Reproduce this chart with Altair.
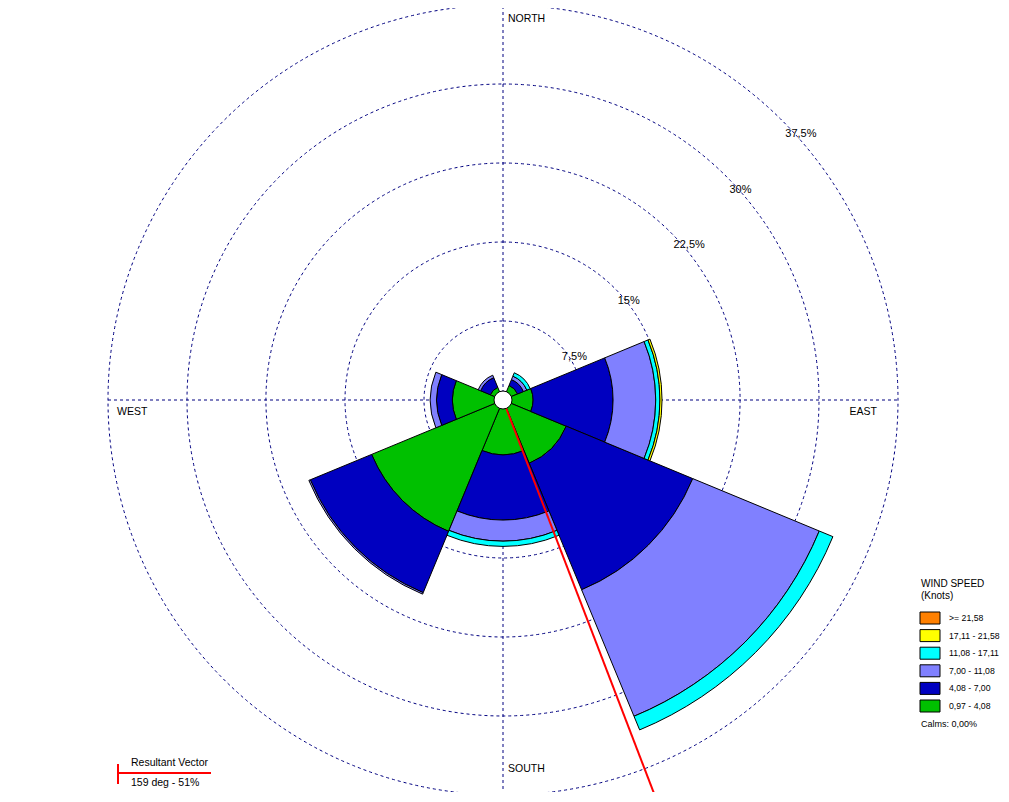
import math
import altair as alt
import pandas as pd

# ---------------- data ----------------
directions = ["N", "NE", "E", "SE", "S", "SW", "W", "NW"]
bearings = [0, 45, 90, 135, 180, 225, 270, 315]
sector_width = 45

speed_classes = ["0,97 - 4,08", "4,08 - 7,00", "7,00 - 11,08",
                 "11,08 - 17,11", "17,11 - 21,58", ">= 21,58"]
class_colors = ["#00C000", "#0000C0", "#8080FF", "#00FFFF", "#FFFF00", "#FF8000"]

# frequency (%) of each speed class per direction
pct_097_408 = [0.6, 1.5, 2.85, 6.5, 5.2, 13.5, 4.8, 1.3]
pct_408_700 = [0.0, 0.6, 7.6, 13.0, 6.2, 6.3, 1.5, 1.0]
pct_700_1108 = [0.0, 0.35, 4.05, 13.0, 2.0, 0.15, 0.6, 0.25]
pct_1108_1711 = [0.0, 0.35, 0.4, 1.4, 0.5, 0.0, 0.0, 0.0]
pct_1711_2158 = [0.0, 0.0, 0.2, 0.0, 0.0, 0.0, 0.0, 0.0]
pct_ge_2158 = [0.0, 0.0, 0.0, 0.0, 0.0, 0.0, 0.0, 0.0]

ring_values = [7.5, 15, 22.5, 30, 37.5]
ring_labels = ["7,5%", "15%", "22,5%", "30%", "37,5%"]
compass_labels = ["NORTH", "EAST", "SOUTH", "WEST"]

resultant_dir = 159
resultant_pct = 51
calms_text = "Calms: 0,00%"

# ---------------- layout ----------------
W, H = 993, 784
CX, CY = 503, 400          # page position of rose centre
K = 395 / 37.5             # px per percent
FONT = "Liberation Sans"
NAVY = "#000080"

def px_x(page_x):
    return (page_x - CX) / K

def px_y(page_y):
    return (CY - page_y) / K

xs = alt.Scale(domain=[px_x(8), px_x(8 + W)], nice=False, zero=False)
ys = alt.Scale(domain=[px_y(8 + H), px_y(8)], nice=False, zero=False)
ths = alt.Scale(domain=[0, 360], range=[0, 2 * math.pi])
rs = alt.Scale(type="linear", domain=[0, 37.5], range=[0, 37.5 * K], zero=True)

X = lambda f: alt.X(f, scale=xs, axis=None)
Y = lambda f: alt.Y(f, scale=ys, axis=None)

# petals
series = [pct_097_408, pct_408_700, pct_700_1108, pct_1108_1711, pct_1711_2158, pct_ge_2158]
rows = []
for i, b in enumerate(bearings):
    cum = 0.0
    for c, arr in enumerate(series):
        v = arr[i]
        if v > 0:
            rows.append(dict(cx=0, cy=0, t0=b - sector_width / 2, t1=b + sector_width / 2,
                             r0=cum, r1=cum + v, cls=speed_classes[c], order=c))
            cum += v
petals = pd.DataFrame(rows)

color_scale = alt.Scale(domain=speed_classes, range=class_colors)

rings_df = pd.DataFrame(dict(cx=0, cy=0, t0=0, t1=360, r=ring_values))
rings = alt.Chart(rings_df).mark_arc(fillOpacity=0, stroke=NAVY, strokeWidth=1,
                                     strokeDash=[3, 3]).encode(
    x=X("cx:Q"), y=Y("cy:Q"),
    theta=alt.Theta("t0:Q", scale=ths, stack=None), theta2="t1:Q",
    radius=alt.Radius("r:Q", scale=rs))

R = ring_values[-1]
axes_df = pd.DataFrame(dict(x=[-R, 0], x2=[R, 0], y=[0, -R], y2=[0, R]))
axes_lines = alt.Chart(axes_df).mark_rule(color=NAVY, strokeWidth=1, strokeDash=[3, 3]).encode(
    x=X("x:Q"), x2="x2:Q", y=Y("y:Q"), y2="y2:Q")

petal_layer = alt.Chart(petals).mark_arc(stroke="black", strokeWidth=1).encode(
    x=X("cx:Q"), y=Y("cy:Q"),
    theta=alt.Theta("t0:Q", scale=ths, stack=None), theta2="t1:Q",
    radius=alt.Radius("r1:Q", scale=rs), radius2="r0:Q",
    fill=alt.Fill("cls:N", scale=color_scale, legend=None),
    order=alt.Order("order:Q"))

rad = math.radians(resultant_dir)
res_df = pd.DataFrame(dict(x=[0], y=[0], x2=[resultant_pct * math.sin(rad)],
                           y2=[resultant_pct * math.cos(rad)]))
res_line = alt.Chart(res_df).mark_rule(color="#FF0000", strokeWidth=2).encode(
    x=X("x:Q"), x2="x2:Q", y=Y("y:Q"), y2="y2:Q")

calm_df = pd.DataFrame(dict(cx=[0], cy=[0], t0=[0], t1=[360]))
calm = alt.Chart(calm_df).mark_arc(fill="white", stroke="black", strokeWidth=1).encode(
    x=X("cx:Q"), y=Y("cy:Q"),
    theta=alt.Theta("t0:Q", scale=ths, stack=None), theta2="t1:Q",
    radius=alt.value(9))

s45 = math.sin(math.radians(45))
ring_lab_df = pd.DataFrame(dict(x=[v * s45 for v in ring_values],
                                y=[v * s45 for v in ring_values], t=ring_labels))
ring_text = alt.Chart(ring_lab_df).mark_text(align="left", baseline="middle", dx=3, dy=13,
                                             font=FONT, fontSize=11, color="black").encode(
    x=X("x:Q"), y=Y("y:Q"), text="t:N")

def compass(label, x, y, align, dx, dy):
    d = pd.DataFrame(dict(x=[x], y=[y], t=[label]))
    return alt.Chart(d).mark_text(align=align, baseline="middle", dx=dx, dy=dy,
                                  font=FONT, fontSize=10.5, color="black").encode(
        x=X("x:Q"), y=Y("y:Q"), text="t:N")

compass_layers = [
    compass(compass_labels[0], 0, R, "left", 5, 13.5),
    compass(compass_labels[1], R, 0, "right", -21, 12),
    compass(compass_labels[2], 0, -R, "left", 5, -26),
    compass(compass_labels[3], -R, 0, "left", 9, 12),
]

# ---------------- wind speed legend ----------------
legend_order = list(reversed(speed_classes))  # fastest on top
leg_rows = []
for i, c in enumerate(legend_order):
    top = 612 + i * 17.6
    leg_rows.append(dict(x=px_x(920), x2=px_x(940), y=px_y(top), y2=px_y(top + 12),
                         ym=px_y(top + 6), lx=px_x(949), cls=c))
leg_df = pd.DataFrame(leg_rows)
leg_boxes = alt.Chart(leg_df).mark_rect(stroke="black", strokeWidth=1).encode(
    x=X("x:Q"), x2="x2:Q", y=Y("y:Q"), y2="y2:Q",
    fill=alt.Fill("cls:N", scale=color_scale, legend=None))
leg_labels = alt.Chart(leg_df).mark_text(align="left", baseline="middle", font=FONT,
                                         fontSize=8.7, color="black").encode(
    x=X("lx:Q"), y=Y("ym:Q"), text="cls:N")

leg_title_df = pd.DataFrame(dict(x=[px_x(921)] * 3, y=[px_y(584), px_y(596), px_y(724)],
                                 t=["WIND SPEED", "(Knots)", calms_text],
                                 fs=[10, 10, 9]))
leg_title = alt.Chart(leg_title_df).mark_text(align="left", baseline="middle", font=FONT,
                                              color="black").encode(
    x=X("x:Q"), y=Y("y:Q"), text="t:N",
    size=alt.Size("fs:Q", scale=None, legend=None))

# ---------------- resultant vector key ----------------
rv_df = pd.DataFrame(dict(x=[px_x(118), px_x(118)], x2=[px_x(211), px_x(118)],
                          y=[px_y(773), px_y(764)], y2=[px_y(773), px_y(784)]))
rv_lines = alt.Chart(rv_df).mark_rule(color="#FF0000", strokeWidth=2).encode(
    x=X("x:Q"), x2="x2:Q", y=Y("y:Q"), y2="y2:Q")
rv_text_df = pd.DataFrame(dict(x=[px_x(131)] * 2, y=[px_y(763), px_y(783)],
                               t=["Resultant Vector",
                                  f"{resultant_dir} deg - {resultant_pct}%"]))
rv_text = alt.Chart(rv_text_df).mark_text(align="left", baseline="middle", font=FONT,
                                          fontSize=10.5, color="black").encode(
    x=X("x:Q"), y=Y("y:Q"), text="t:N")

chart = alt.layer(
    rings, axes_lines, petal_layer, res_line, calm, ring_text, *compass_layers,
    leg_boxes, leg_labels, leg_title, rv_lines, rv_text
).properties(
    width=W, height=H, padding=0,
    autosize=alt.AutoSizeParams(type="none")
).configure(background="white", view=alt.ViewConfig(stroke=None))

chart.save("out.html", embed_options={"renderer": "svg", "actions": False})
